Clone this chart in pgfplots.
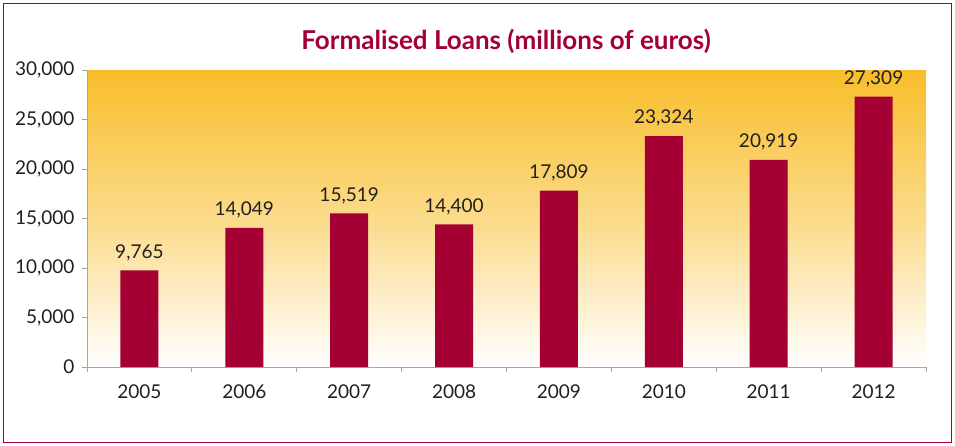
\documentclass[border=0pt]{standalone}
\usepackage{pgfplots}
\pgfplotsset{compat=1.18}
\usepackage{fontspec}
\setmainfont{Lato}
\definecolor{crim}{HTML}{A50034}
\definecolor{gold}{HTML}{F8BD2A}
\definecolor{axgray}{HTML}{A6A6A6}
\definecolor{txt}{HTML}{231F20}
\begin{document}
\begin{tikzpicture}[x=1pt,y=1pt]
\fill[white] (0,0) rectangle (955,445);
\draw[crim, line width=1pt] (3,3) rectangle (951,441);
\node[font=\fontsize{26}{26}\bfseries\selectfont, text=crim] at (506,404) {Formalised Loans (millions of euros)};
\begin{axis}[
  at={(87pt,78pt)}, anchor=south west,
  scale only axis, width=839pt, height=297pt,
  xmin=-0.5, xmax=7.5, ymin=0, ymax=30000,
  enlargelimits=false,
  axis lines*=left,
  axis line style={axgray, line width=1pt},
  axis background/.style={top color=gold, bottom color=white, middle color=gold!55!white},
  xtick={-0.5,0.5,...,7.5},
  xticklabels={2005,2006,2007,2008,2009,2010,2011,2012},
  x tick label as interval,
  ytick={0,5000,...,30000},
  tick align=outside,
  major tick length=5pt,
  tick style={axgray, line width=0.8pt},
  /pgf/number format/.cd, 1000 sep={,}, assume math mode=true,
  /pgfplots/.cd,
  scaled y ticks=false,
  ticklabel style={font=\fontsize{19}{19}\selectfont, text=txt},
  xticklabel style={yshift=-9pt},
  yticklabel style={xshift=-4pt},
  ybar, bar width=38pt,
  nodes near coords,
  nodes near coords style={font=\fontsize{19}{19}\selectfont, text=txt, yshift=6pt, /pgf/number format/.cd, 1000 sep={,}, assume math mode=true},
]
\addplot[fill=crim, draw=none] coordinates {
(0,9765) (1,14049) (2,15519) (3,14400) (4,17809) (5,23324) (6,20919) (7,27309)};
\end{axis}
\end{tikzpicture}
\end{document}
